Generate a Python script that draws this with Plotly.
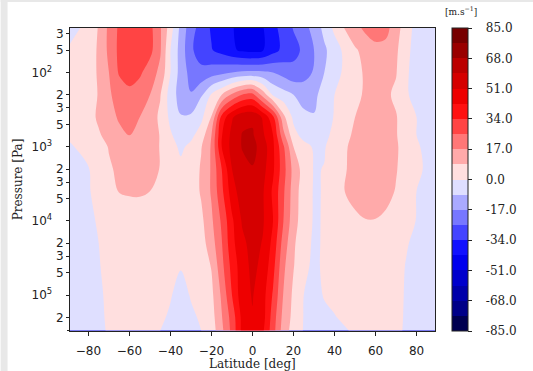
import plotly.graph_objects as go

lats = [-89,-80,-75,-70,-65,-60,-55,-50,-45,-40,-35,-30,-25,-20,-15,-10,-5,0,5,10,15,20,25,30,35,40,45,50,55,60,65,70,75,80,89]
pressures = [25,50,100,200,400,700,1000,2000,4000,1e4,2e4,4e4,1e5,2e5,3e5]

u_25 = [-5,4,9,19,27,31,32,28,18,4,-11,-22,-29,-35,-39,-42,-45,-46,-43,-37,-30,-25,-20,-14,-6,2,9,14,19,22,20,12,4,-3,-6]
u_50 = [2,5,9.5,19,27.5,32,33,28,18,0,-12,-24,-30,-33.5,-37,-41,-44,-45,-43,-37,-32,-28,-24,-17,-10,-4,2,7.5,11,14,14,10,2,-3,-5]
u_100 = [1,5,9.5,17,26.5,31,27,21,15,0,-12,-20,-23,-21,-19,-17,-15.5,-15,-15.5,-17,-20,-23,-21,-16,-8.5,-3,1.5,6,9.5,11,11,9,1,-3,-5]
u_200 = [1,5,9,16,20,22,20.5,17,9,-4,-12,-16.5,-9.5,1,8.5,18.5,26,28,14,-1,-5,-8.5,-11,-10.5,-5,0,3,6.5,9.5,11,10,7,1,-3,-5]
u_400 = [1,5,10,14,18,20.5,17,12.5,7,-2,-8,-7,-2,9,37,50,57,58,50,36,11,-2,-7,-8,-7,1,5,8.5,11,12,11,9,4,0,-3]
u_700 = [0.5,3,7.5,11.5,15,17,16.5,13.5,8,1,-4,-2,4,17,42,53.5,60,60.5,52.5,42.5,20,3,-3,-4,-2,2,6.5,9.8,12,12.5,11.5,9,4.5,0,-3]
u_1000 = [-0.3,1,5,9,14,16,15.5,13,8,3,-1.5,2,8,18,42.5,54,60,62,56,44,27,8.5,3,-1,-0.5,3,7.5,11,13,14,13,9.5,5,0.5,-2]
u_2000 = [-1.5,-0.2,3,7.5,10,11.5,12,11,8.2,4,2,3,9.5,18,34,51,57,59,54,44,29,14,5,-0.5,0.2,3,8,10.5,12.5,13.5,12,9,5,1,-2]
u_4000 = [-2,-0.5,2,5.5,8.8,9.2,9.3,8.5,6.5,4.5,3,3.5,9.5,18,32,47,56,57,52,41,27,13,4,-0.6,0.3,4,8.5,11,12.5,12.5,11,8,4,0,-2.5]
u_1e4 = [-2.5,-1,0.5,2.5,4,5,5,5,5,4,3,3,6.5,15.5,27,41,52,56,52,42.5,25.8,12,4,-0.7,0.4,3,5,7,8.2,8.2,7,5,3,-0.3,-3]
u_2e4 = [-3,-1.5,0,2,3.5,4.5,5,5,4,3,2,3,5,13,25,40,49,54,50.5,40,22,10,2,-0.8,0.5,2.5,4,5,5.5,5.5,4.5,3,0.5,-1.5,-3.5]
u_4e4 = [-3.5,-2,-0.3,1.5,3,4,4.5,4,3,1.5,0.3,2,4,9,23,37,47.5,53,49,37,19,9,1,-0.8,0.6,2,3,4,4.5,4.5,4,2,-0.3,-1.5,-3.5]
u_1e5 = [-4,-2.5,-0.8,1,2,3,3,2.5,1.5,0.3,-1.5,0.3,2.5,6.5,18.5,34,48,51.5,46,33,16.8,6.7,0,-1.5,0.3,1.5,2.5,3,3.5,3.5,3,1.5,-0.5,-2,-3.5]
u_2e5 = [-4,-2.5,-0.9,0.7,1.7,2.5,2.4,1.7,0.7,-0.6,-2,-0.7,0.5,5,16.5,29,45,50.5,46,30,14.5,6,-0.3,-1.7,-1,-0.3,1,1.8,2.5,2.6,2.2,1.1,-0.5,-2,-3.2]
u_3e5 = [-4,-2.5,-1,0.5,1.5,2,1.8,1,0,-1.5,-2.5,-1.5,0,4,15,28,45,50,44,29,13,5,-0.5,-2,-2.5,-2,-0.5,0.8,1.5,1.8,1.5,0.8,-0.5,-2,-3]
wind = [u_25,u_50,u_100,u_200,u_400,u_700,u_1000,u_2000,u_4000,u_1e4,u_2e4,u_4e4,u_1e5,u_2e5,u_3e5]

# 20 bands of 8.5 between -85 and 85
bands = ["#000050","#000088","#0000aa","#0000cc","#0000ee","#1111ff","#4444ff","#7777ff","#aaaaff","#dfdfff",
         "#ffdfdf","#ffaaaa","#ff7777","#ff4444","#ff1111","#ee0000","#d50000","#bb0000","#990000","#770000"]
scale = []
n = len(bands)
for i, c in enumerate(bands):
    scale.append([i / n, c])
    scale.append([(i + 1) / n, c])

NB = "\u00a0"
cbar_ticks = [85,68,51,34,17,0,-17,-34,-51,-68,-85]
cbar_text = [NB*3 + t for t in ["85.0","68.0","51.0","34.0","17.0","0.0","-17.0","-34.0","-51.0","-68.0","-85.0"]]
lat_ticks = [-80,-60,-40,-20,0,20,40,60,80]
lat_text = ["−80","−60","−40","−20","0","20","40","60","80"]
p_ticks = [30,50,100,200,300,500,1000,2000,3000,5000,10000,20000,30000,50000,100000,200000]
p_text = ["3","5","10<sup>2</sup>"+NB*3,"2","3","5","10<sup>3</sup>"+NB*3,"2","3","5","10<sup>4</sup>"+NB*3,"2","3","5","10<sup>5</sup>"+NB*3,"2"]

fig = go.Figure(go.Contour(
    x=lats, y=pressures, z=wind,
    zmin=-85, zmax=85, autocontour=False,
    contours=dict(start=-85, end=85, size=8.5, coloring="fill", showlines=False),
    line=dict(width=0, smoothing=1),
    colorscale=scale,
    colorbar=dict(
        x=1.0475, xanchor="left", xpad=0, y=0.5, yanchor="middle", ypad=0, len=1, lenmode="fraction",
        thickness=16, thicknessmode="pixels", outlinecolor="#222", outlinewidth=1,
        tickmode="array", tickvals=cbar_ticks, ticktext=cbar_text, ticks="outside", ticklen=4, tickwidth=1,
        tickcolor="#222", tickfont=dict(family="DejaVu Serif", size=12, color="#222"),
    ),
    hoverinfo="skip",
))

fig.update_layout(
    width=533, height=371, autosize=False,
    margin=dict(l=69.5, r=98, t=28, b=40, autoexpand=False),
    paper_bgcolor="white", plot_bgcolor="white",
    font=dict(family="DejaVu Sans", size=12, color="#222"),
    xaxis=dict(range=[-89,89], tickmode="array", tickvals=lat_ticks, ticktext=lat_text, ticks="outside", ticklen=4,
               tickwidth=1, tickcolor="#222", showline=True, mirror=True, linecolor="#222", linewidth=1, showgrid=False, zeroline=False,
               tickfont=dict(size=12, color="#222"), ticklabelstandoff=5),
    yaxis=dict(type="log", range=[5.485,1.4], tickmode="array", tickvals=p_ticks, ticktext=p_text, ticks="outside", ticklen=3,
               tickwidth=1, tickcolor="#222", showline=True, mirror=True, linecolor="#222", linewidth=1, showgrid=False, zeroline=False,
               tickfont=dict(size=12, color="#222"),
               minor=dict(ticks="outside", ticklen=2, tickwidth=0.7, tickcolor="#222", showgrid=False),
               title=dict(text="Pressure [Pa]", font=dict(family="DejaVu Serif", size=12, color="#222"), standoff=6)),
    annotations=[
        dict(text="[m.s<sup>−1</sup>]", xref="paper", yref="paper", x=1.0725, y=1.03, xanchor="center", yanchor="bottom",
             showarrow=False, font=dict(family="DejaVu Serif", size=9, color="#222")),
        dict(text="Latitude [deg]", xref="paper", yref="paper", x=0.5, y=-0.11, xanchor="center", yanchor="middle",
             showarrow=False, font=dict(family="DejaVu Serif", size=12, color="#222")),
    ],
    shapes=[
        dict(type="rect", xref="paper", yref="paper", x0=-0.19, x1=-0.171, y0=-0.14, y1=1.1, fillcolor="#e8e8e8", line=dict(width=0), layer="below"),
        dict(type="rect", xref="paper", yref="paper", x0=-0.19, x1=1.28, y0=1.086, y1=1.1, fillcolor="#e8e8e8", line=dict(width=0), layer="below"),
    ],
)
fig.write_html("out.html", config={"displayModeBar": False},
               post_script="document.body.style.margin='0';document.documentElement.style.overflow='hidden';")
